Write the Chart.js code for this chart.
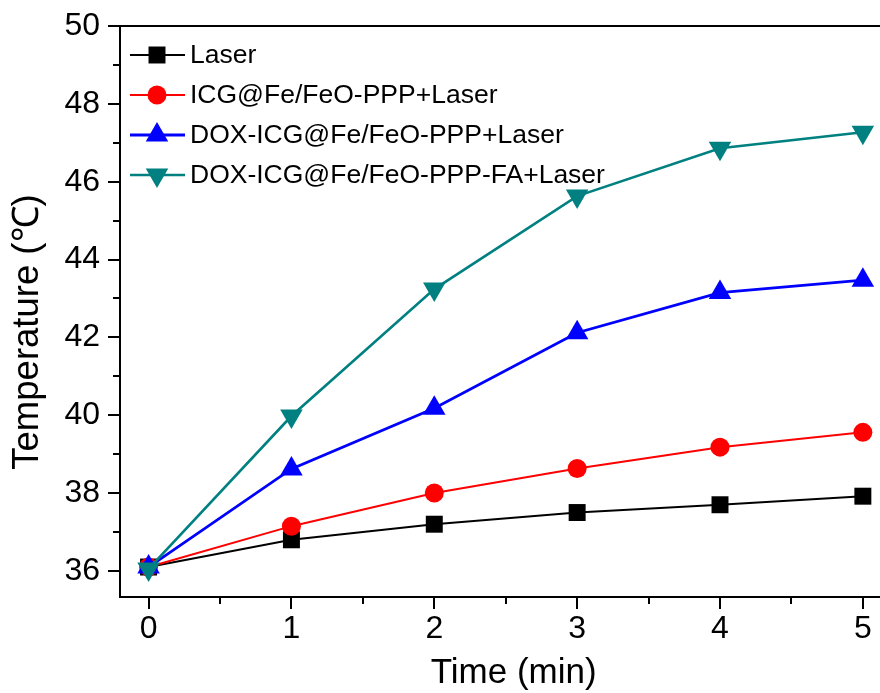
<!DOCTYPE html>
<html>
<head>
<meta charset="utf-8">
<script src="https://cdn.jsdelivr.net/npm/chart.js@4/dist/chart.umd.min.js"></script>
<style>
  html, body { margin: 0; padding: 0; background: #ffffff; }
  #wrap { width: 880px; height: 693px; }
</style>
</head>
<body>
<div id="wrap"><canvas id="c" width="880" height="693"></canvas></div>
<script>
// Temperature rise under laser irradiation (°C) at each time point (min)
const timePoints = [0, 1, 2, 3, 4, 5];
const laserOnly = [36.1, 36.8, 37.2, 37.5, 37.7, 37.92];
const icgFeLaser = [36.1, 37.15, 38.0, 38.63, 39.18, 39.56];
const doxIcgFeLaser = [36.1, 38.62, 40.18, 42.12, 43.15, 43.47];
const doxIcgFeFaLaser = [36.05, 39.98, 43.24, 45.63, 46.86, 47.27];

const seriesNames = [
  'Laser',
  'ICG@Fe/FeO-PPP+Laser',
  'DOX-ICG@Fe/FeO-PPP+Laser',
  'DOX-ICG@Fe/FeO-PPP-FA+Laser'
];

const xTickValues = [0, 1, 2, 3, 4, 5];
const xMinorTicks = [0.5, 1.5, 2.5, 3.5, 4.5];
const yTickValues = [36, 38, 40, 42, 44, 46, 48, 50];
const yMinorTicks = [37, 39, 41, 43, 45, 47, 49];

const xTitle = 'Time (min)';
const yTitle = 'Temperature (\u2103)';

const FONT = '"Liberation Sans", Arial, Helvetica, sans-serif';

const toPoints = (vals) => timePoints.map((t, i) => ({ x: t, y: vals[i] }));

const styles = [
  { color: '#000000', pointStyle: 'rect', radius: 12, rotation: 0, width: 2, order: 3 },
  { color: '#ff0000', pointStyle: 'circle', radius: 9.5, rotation: 0, width: 2, order: 2 },
  { color: '#0000ff', pointStyle: 'triangle', radius: 13, rotation: 0, width: 2.8, order: 1 },
  { color: '#008080', pointStyle: 'triangle', radius: 13, rotation: 180, width: 2.6, order: 0 }
];

const seriesValues = [laserOnly, icgFeLaser, doxIcgFeLaser, doxIcgFeFaLaser];

const datasets = seriesValues.map((vals, i) => ({
  label: seriesNames[i],
  data: toPoints(vals),
  borderColor: styles[i].color,
  backgroundColor: styles[i].color,
  borderWidth: styles[i].width,
  pointStyle: styles[i].pointStyle,
  pointRadius: styles[i].radius,
  pointRotation: styles[i].rotation,
  pointBorderWidth: 0,
  pointBackgroundColor: styles[i].color,
  tension: 0,
  clip: false,
  order: styles[i].order
}));

// Outward major/minor tick marks, top frame line, axis titles and the in-plot legend
const decorations = {
  id: 'decorations',
  afterDraw(chart) {
    const ctx = chart.ctx;
    const xs = chart.scales.x, ys = chart.scales.y;
    const area = chart.chartArea;
    ctx.save();
    ctx.strokeStyle = '#000';
    ctx.lineWidth = 2;
    ctx.beginPath();
    xTickValues.forEach(v => {
      const px = Math.round(xs.getPixelForValue(v));
      ctx.moveTo(px, area.bottom); ctx.lineTo(px, area.bottom + 12);
    });
    xMinorTicks.forEach(v => {
      const px = Math.round(xs.getPixelForValue(v));
      ctx.moveTo(px, area.bottom); ctx.lineTo(px, area.bottom + 7);
    });
    yTickValues.forEach(v => {
      const py = Math.round(ys.getPixelForValue(v));
      ctx.moveTo(area.left, py); ctx.lineTo(area.left - 12, py);
    });
    yMinorTicks.forEach(v => {
      const py = Math.round(ys.getPixelForValue(v));
      ctx.moveTo(area.left, py); ctx.lineTo(area.left - 7, py);
    });
    // top frame
    ctx.moveTo(area.left - 12, area.top);
    ctx.lineTo(area.right, area.top);
    ctx.stroke();

    // axis titles
    ctx.fillStyle = '#000';
    ctx.textAlign = 'center';
    ctx.textBaseline = 'middle';
    ctx.font = '35px ' + FONT;
    ctx.fillText(xTitle, xs.getPixelForValue(2.5) + 8, 673);
    ctx.save();
    ctx.translate(28, 332);
    ctx.rotate(-Math.PI / 2);
    ctx.font = '36.5px ' + FONT;
    ctx.fillText(yTitle, 0, 0);
    ctx.restore();

    // legend
    const rowY0 = area.top + 29;
    const rowGap = 40;
    const lineX0 = area.left + 10, lineX1 = area.left + 65, markX = area.left + 37;
    ctx.font = '26.5px ' + FONT;
    ctx.textBaseline = 'middle';
    ctx.textAlign = 'left';
    chart.data.datasets.forEach((ds, i) => {
      const y = rowY0 + i * rowGap;
      ctx.strokeStyle = ds.borderColor;
      ctx.lineWidth = ds.borderWidth;
      ctx.beginPath();
      ctx.moveTo(lineX0, y); ctx.lineTo(lineX1, y);
      ctx.stroke();
      ctx.fillStyle = ds.pointBackgroundColor;
      Chart.helpers.drawPoint(ctx, {
        pointStyle: ds.pointStyle,
        rotation: ds.pointRotation,
        radius: ds.pointRadius,
        borderWidth: 0
      }, markX, y);
      ctx.fillStyle = '#000';
      ctx.fillText(ds.label, lineX1 + 5, y + 1);
    });
    ctx.restore();
  }
};

new Chart(document.getElementById('c'), {
  type: 'line',
  data: { datasets },
  plugins: [decorations],
  options: {
    responsive: false,
    devicePixelRatio: 1,
    animation: false,
    layout: { autoPadding: false, padding: { top: 26, right: 0, left: 0, bottom: 0 } },
    plugins: { legend: { display: false }, tooltip: { enabled: false } },
    scales: {
      x: {
        type: 'linear',
        min: -0.2,
        max: 5.12,
        afterBuildTicks: (s) => { s.ticks = xTickValues.map(v => ({ value: v })); },
        afterFit: (s) => { s.height = 96; s.paddingLeft = 0; s.paddingRight = 0; },
        grid: {
          display: true,
          drawOnChartArea: false,
          drawTicks: true,
          tickLength: 13,
          tickColor: 'rgba(0,0,0,0)'
        },
        border: { display: true, color: '#000', width: 2 },
        ticks: {
          color: '#000',
          font: { family: FONT, size: 32 },
          padding: 0,
          maxRotation: 0,
          autoSkip: false
        }
      },
      y: {
        type: 'linear',
        min: 35.33,
        max: 50,
        afterBuildTicks: (s) => { s.ticks = yTickValues.map(v => ({ value: v })); },
        afterFit: (s) => { s.width = 120; s.paddingTop = 0; s.paddingBottom = 0; },
        grid: { display: false },
        border: { display: true, color: '#000', width: 2 },
        ticks: {
          color: '#000',
          font: { family: FONT, size: 32 },
          padding: 12,
          autoSkip: false
        }
      }
    }
  }
});
</script>
</body>
</html>
